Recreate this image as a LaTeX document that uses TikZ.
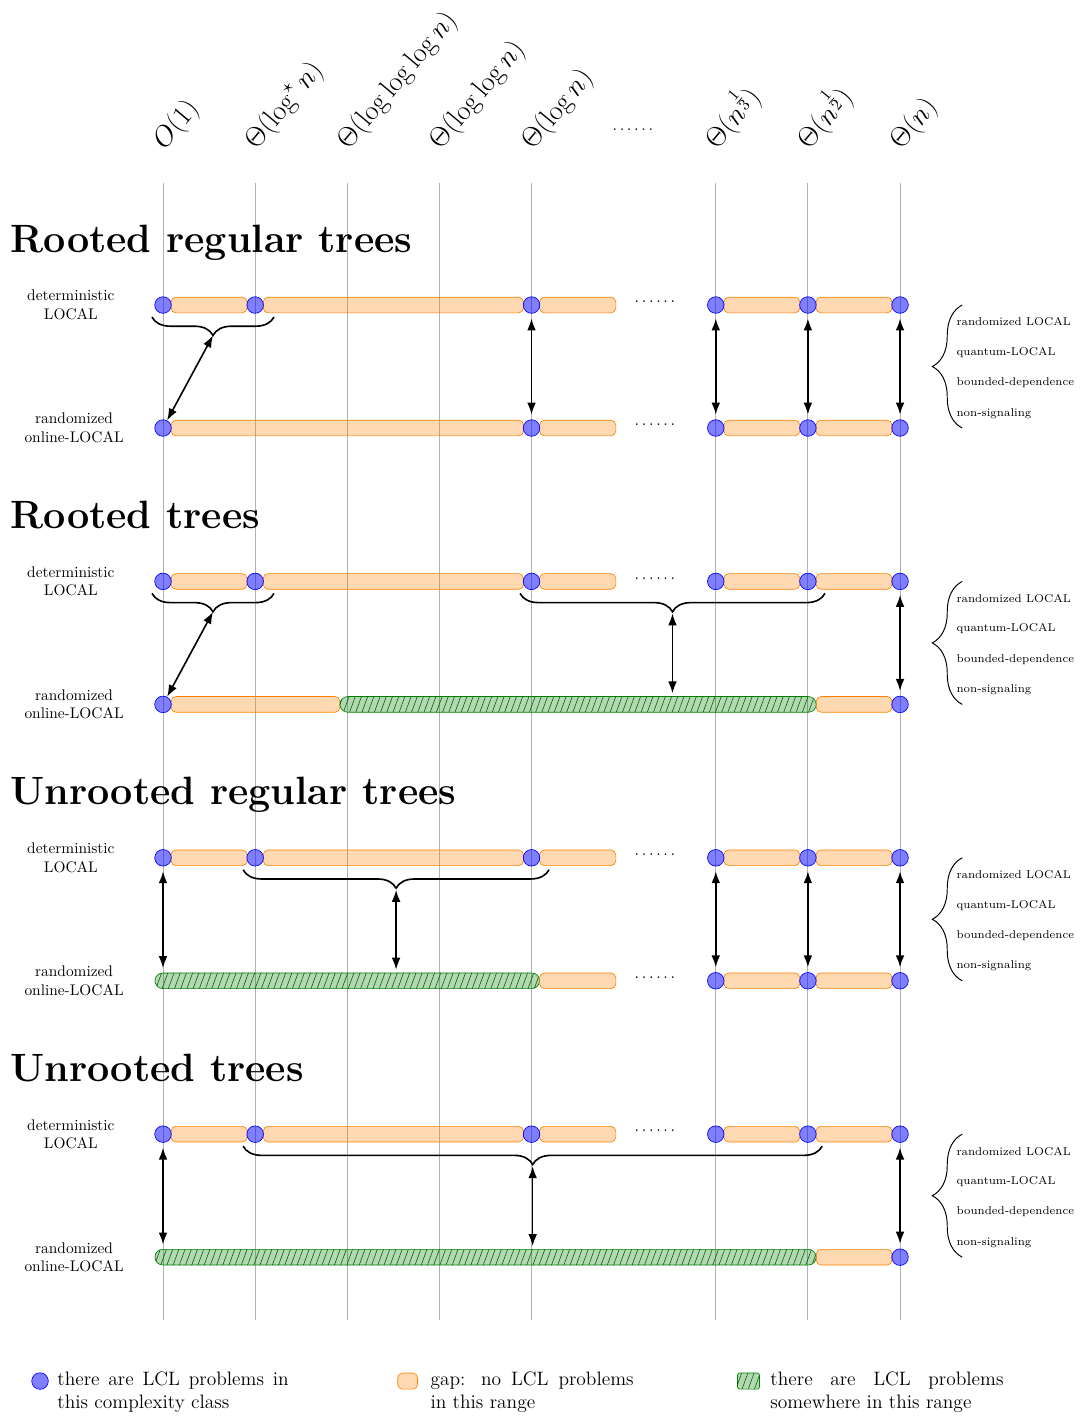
\documentclass[tikz,border=0pt]{standalone}
\usetikzlibrary{arrows.meta, decorations.pathreplacing, patterns.meta}

\tikzset{
  classline/.style={gray!60, line width=0.6pt},
  classlabel/.style={rotate=50, anchor=south west, inner sep=0pt, font=\LARGE},
  cls/.style={circle, draw=blue, fill=blue, fill opacity=0.5, minimum size=0.36cm, inner sep=0pt},
  gapbar/.style={draw=orange, fill=orange, fill opacity=0.3, rounded corners=3pt},
  somebar/.style={draw=green!50!black, fill=green!50!black, fill opacity=0.3, rounded corners=0.17cm,
    postaction={draw=none, fill opacity=1, pattern={Lines[angle=70, distance=3.6pt, line width=0.35pt]}, pattern color=green!35!black}},
  modellabel/.style={font=\fontsize{9.5}{11.5}\selectfont, align=center},
  treetitle/.style={anchor=base west, inner sep=0pt, font=\fontsize{24.4}{29}\selectfont\bfseries},
  link/.style={<->, >={Latex[length=2.6mm, width=1.9mm]}, line width=1pt},
  vlink/.style={link, shorten <=3pt, shorten >=3pt},
  rowbrace/.style={decorate, decoration={brace, mirror, amplitude=0.4cm}, line width=1pt},
  sidebrace/.style={decorate, decoration={brace, amplitude=0.65cm}, semithick},
  modelname/.style={anchor=west, inner sep=0pt, font=\scriptsize},
  keytext/.style={anchor=north west, inner sep=0pt, font=\large, align=justify},
}

\begin{document}
\begin{tikzpicture}
\useasboundingbox (-3.539,-24.14) rectangle (19.974,6.622);

% one line per complexity class
\foreach \k in {0,1,2,3,4,6,7,8}
  \draw[classline] (2*\k,2.65) -- (2*\k,-22.04);

\foreach \k/\lab in {0/{O(1)}, 1/{\Theta(\log^\star n)}, 2/{\Theta(\log\log\log n)}, 3/{\Theta(\log\log n)},
    4/{\Theta(\log n)}, 6/{\Theta(n^{\frac{1}{3}})}, 7/{\Theta(n^{\frac{1}{2}})}, 8/{\Theta(n)}}
  \node[classlabel] (class\k) at (2*\k+0.15,3.25) {$\lab$};
\node (classdots) at (10.2,3.8) {$\ldots\ldots$};

% titles
\node[treetitle] (title1) at (-3.32,1.15) {Rooted regular trees};
\node[treetitle] (title2) at (-3.32,-4.85) {Rooted trees};
\node[treetitle] (title3) at (-3.32,-10.85) {Unrooted regular trees};
\node[treetitle] (title4) at (-3.32,-16.85) {Unrooted trees};

% deterministic rows are the same in every section
\foreach \s in {1,...,4} {
  \pgfmathsetmacro\yd{-6*(\s-1)}
  \pgfmathsetmacro\yr{\yd-2.67}
  \node[modellabel] (det\s) at (-2,\yd) {deterministic\\LOCAL};
  \node[modellabel] (rand\s) at (-1.93,\yr) {randomized\\online-LOCAL};
  \foreach \a/\b in {0.175/1.825, 2.175/7.825, 8.175/9.83, 12.175/13.825, 14.175/15.825}
    \draw[gapbar] (\a,\yd-0.17) rectangle (\b,\yd+0.17);
  \foreach \k in {0,1,4,6,7,8}
    \node[cls] (d\s-\k) at (2*\k,\yd) {};
  \node (ddots\s) at (10.68,\yd+0.07) {$\ldots\ldots$};
  % models that behave like randomized online-LOCAL
  \draw[sidebrace] (17.35,\yr) -- (17.35,\yd);
  \foreach \m [count=\i] in {randomized LOCAL, quantum-LOCAL, bounded-dependence, non-signaling}
    \node[modelname] (model\s-\i) at (17.22,\yd-0.37-0.66*\i+0.66) {\m};
}

% rooted regular trees
\draw[gapbar] (0.175,-2.84) rectangle (7.825,-2.5);
\draw[gapbar] (8.175,-2.84) rectangle (9.83,-2.5);
\draw[gapbar] (12.175,-2.84) rectangle (13.825,-2.5);
\draw[gapbar] (14.175,-2.84) rectangle (15.825,-2.5);
\foreach \k in {0,4,6,7,8}
  \node[cls] (r1-\k) at (2*\k,-2.67) {};
\node (rdots1) at (10.68,-2.6) {$\ldots\ldots$};
\draw[rowbrace] (-0.24,-0.26) -- (2.41,-0.26);
\coordinate (tip1) at (1.085,-0.66);
\draw[link] (tip1) -- (r1-0);
\foreach \k in {4,6,7,8}
  \draw[vlink] (d1-\k) -- (r1-\k);

% rooted trees
\draw[gapbar] (0.175,-8.84) rectangle (3.84,-8.5);
\draw[somebar] (3.84,-8.84) rectangle (14.18,-8.5);
\draw[gapbar] (14.18,-8.84) rectangle (15.825,-8.5);
\node[cls] (r2-0) at (0,-8.67) {};
\node[cls] (r2-8) at (16,-8.67) {};
\draw[rowbrace] (-0.24,-6.26) -- (2.41,-6.26);
\draw[rowbrace] (7.75,-6.26) -- (14.37,-6.26);
\coordinate (tip2a) at (1.085,-6.66);
\coordinate (tip2b) at (11.06,-6.66);
\coordinate (hit2) at (11.06,-8.5);
\draw[link] (tip2a) -- (r2-0);
\draw[link, shorten <=1pt, shorten >=2pt] (tip2b) -- (hit2);
\draw[vlink] (d2-8) -- (r2-8);

% unrooted regular trees
\draw[somebar] (-0.175,-14.84) rectangle (8.175,-14.5);
\draw[gapbar] (8.175,-14.84) rectangle (9.83,-14.5);
\draw[gapbar] (12.175,-14.84) rectangle (13.825,-14.5);
\draw[gapbar] (14.175,-14.84) rectangle (15.825,-14.5);
\foreach \k in {6,7,8}
  \node[cls] (r3-\k) at (2*\k,-14.67) {};
\node (rdots3) at (10.68,-14.6) {$\ldots\ldots$};
\coordinate (hit3a) at (0,-14.5);
\draw[vlink] (d3-0) -- (hit3a);
\draw[rowbrace] (1.74,-12.26) -- (8.38,-12.26);
\coordinate (tip3) at (5.06,-12.66);
\coordinate (hit3b) at (5.06,-14.5);
\draw[link, shorten <=1pt, shorten >=2pt] (tip3) -- (hit3b);
\foreach \k in {6,7,8}
  \draw[vlink] (d3-\k) -- (r3-\k);

% unrooted trees
\draw[somebar] (-0.175,-20.84) rectangle (14.18,-20.5);
\draw[gapbar] (14.18,-20.84) rectangle (15.825,-20.5);
\node[cls] (r4-8) at (16,-20.67) {};
\coordinate (hit4a) at (0,-20.5);
\draw[vlink] (d4-0) -- (hit4a);
\draw[rowbrace] (1.74,-18.26) -- (14.31,-18.26);
\coordinate (tip4) at (8.025,-18.66);
\coordinate (hit4b) at (8.025,-20.5);
\draw[link, shorten <=1pt, shorten >=2pt] (tip4) -- (hit4b);
\draw[vlink] (d4-8) -- (r4-8);

% legend
\node[cls] (keycls) at (-2.67,-23.36) {};
\node[keytext, text width=5.02cm] (keyclstext) at (-2.30,-23.155) {there are LCL problems in this complexity class};
\node[gapbar, minimum width=0.43cm, minimum height=0.35cm, inner sep=0pt] (keygap) at (5.31,-23.36) {};
\node[keytext, text width=4.41cm] (keygaptext) at (5.80,-23.155) {gap: no LCL problems in this range};
\node[somebar, rounded corners=1.5pt, minimum width=0.48cm, minimum height=0.35cm, inner sep=0pt] (keysome) at (12.71,-23.36) {};
\node[keytext, text width=5.06cm] (keysometext) at (13.18,-23.155) {there are LCL problems somewhere in this range};
\end{tikzpicture}
\end{document}
